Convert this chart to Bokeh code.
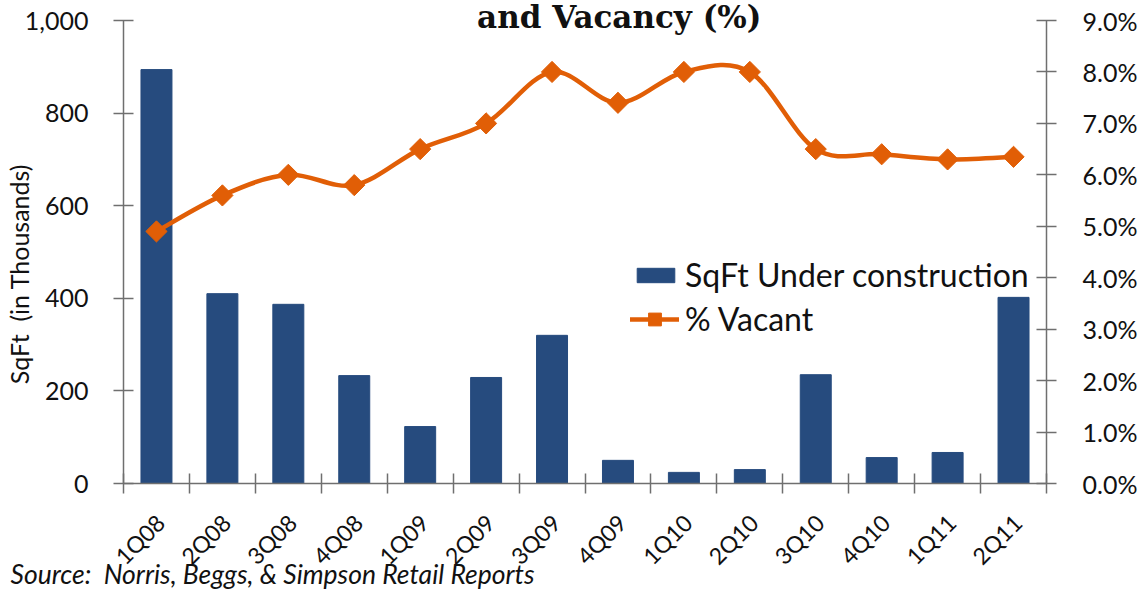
import math
from bokeh.plotting import figure
from bokeh.models import (Range1d, LinearAxis, FixedTicker, NumeralTickFormatter,
                          PrintfTickFormatter, Label, Legend, LegendItem, Title)
from bokeh.embed import file_html
from bokeh.resources import INLINE

# ---- data ----
quarters = ["1Q08", "2Q08", "3Q08", "4Q08", "1Q09", "2Q09", "3Q09", "4Q09",
            "1Q10", "2Q10", "3Q10", "4Q10", "1Q11", "2Q11"]
sqft_under_construction = [894, 410, 387, 233, 123, 229, 320, 50, 24, 30, 235, 56, 67, 402]
pct_vacant = [4.9, 5.6, 6.0, 5.8, 6.5, 7.0, 8.0, 7.4, 8.0, 8.0, 6.5, 6.4, 6.3, 6.35]
left_ticks = [0, 200, 400, 600, 800, 1000]
right_ticks = [0, 1, 2, 3, 4, 5, 6, 7, 8, 9]

BAR = "#264B7E"
ORANGE = "#E15E06"
AX = "#6f6f6f"
TXT = "#111111"
FONT = "Lato"
NB = "\u00a0"

n = len(quarters)
xc = [i + 0.5 for i in range(n)]
label_pos = [i + 0.56 for i in range(n)]

# y range extended above 1000 so the title sits inside the frame; axes bounded to 0..1000
YTOP = 1043.2
p = figure(width=1143, height=594, output_backend="svg", toolbar_location=None,
           x_range=Range1d(0, n), y_range=Range1d(0, YTOP),
           min_border_left=123, min_border_right=97, min_border_top=0, min_border_bottom=111,
           outline_line_color=None, background_fill_color="white", border_fill_color="white")
p.xgrid.visible = False
p.ygrid.visible = False
p.extra_y_ranges = {"pct": Range1d(0, 9 * YTOP / 1000)}

bars = p.vbar(x=xc, top=sqft_under_construction, width=0.47, fill_color=BAR, line_color=BAR)

# smooth (Catmull-Rom style) curve through the vacancy points
bx0, by0, bx1, by1, cx0, cy0, cx1, cy1 = [], [], [], [], [], [], [], []
for i in range(n - 1):
    im, ip, ip2 = max(i - 1, 0), i + 1, min(i + 2, n - 1)
    bx0.append(xc[i]); by0.append(pct_vacant[i])
    bx1.append(xc[ip]); by1.append(pct_vacant[ip])
    cx0.append(xc[i] + (xc[ip] - xc[im]) / 6.0)
    cy0.append(pct_vacant[i] + (pct_vacant[ip] - pct_vacant[im]) / 6.0)
    cx1.append(xc[ip] - (xc[ip2] - xc[i]) / 6.0)
    cy1.append(pct_vacant[ip] - (pct_vacant[ip2] - pct_vacant[i]) / 6.0)

curve = p.bezier(x0=bx0, y0=by0, x1=bx1, y1=by1, cx0=cx0, cy0=cy0, cx1=cx1, cy1=cy1,
                 line_color=ORANGE, line_width=4.5, line_cap="round", y_range_name="pct")
marks = p.scatter(x=xc, y=pct_vacant, marker="square", angle=math.pi / 4, size=15,
                  fill_color=ORANGE, line_color=ORANGE, y_range_name="pct")

# ---- axes ----
xa = p.xaxis[0]
xa.ticker = FixedTicker(ticks=label_pos, minor_ticks=list(range(n + 1)))
xa.major_label_overrides = {x: q for x, q in zip(label_pos, quarters)}
xa.major_tick_line_color = None
xa.major_tick_in = 0
xa.major_tick_out = 10
xa.minor_tick_in = 10
xa.minor_tick_out = 10
xa.minor_tick_line_color = AX
xa.minor_tick_line_width = 1.5
xa.axis_line_color = AX
xa.axis_line_width = 1.5
xa.major_label_orientation = math.pi / 4
xa.major_label_standoff = 25
xa.major_label_text_font = FONT
xa.major_label_text_font_size = "23px"
xa.major_label_text_color = TXT

ya = p.yaxis[0]
ya.bounds = (0, 1000)
ya.ticker = FixedTicker(ticks=left_ticks)
ya.formatter = NumeralTickFormatter(format="0,0")
ya.major_tick_in = 10
ya.major_tick_out = 10
ya.minor_tick_line_color = None
ya.major_tick_line_color = AX
ya.major_tick_line_width = 1.5
ya.axis_line_color = AX
ya.axis_line_width = 1.5
ya.major_label_standoff = 25
ya.major_label_text_font = FONT
ya.major_label_text_font_size = "25px"
ya.major_label_text_color = TXT
ya.axis_label = "SqFt" + NB + NB + "(in Thousands)" + NB * 10
ya.axis_label_text_font = FONT
ya.axis_label_text_font_style = "normal"
ya.axis_label_text_font_size = "25px"
ya.axis_label_text_color = TXT
try:
    ya.axis_label_standoff = -12
except Exception:
    ya.axis_label_standoff = 0

ra = LinearAxis(y_range_name="pct", ticker=FixedTicker(ticks=right_ticks),
                formatter=PrintfTickFormatter(format="%.1f%%"), bounds=(0, 9))
ra.major_tick_in = 10
ra.major_tick_out = 10
ra.minor_tick_line_color = None
ra.major_tick_line_color = AX
ra.major_tick_line_width = 1.5
ra.axis_line_color = AX
ra.axis_line_width = 1.5
ra.major_label_standoff = 26
ra.major_label_text_font = FONT
ra.major_label_text_font_size = "25px"
ra.major_label_text_color = TXT
p.add_layout(ra, "right")

# ---- legends ----
leg1 = Legend(items=[LegendItem(label="SqFt Under construction", renderers=[bars])],
              location=(509, 189), glyph_width=47, glyph_height=18,
              label_text_font=FONT, label_text_font_size="32px", label_text_color=TXT,
              background_fill_alpha=0, border_line_color=None, padding=0, margin=0,
              label_standoff=6, spacing=0)
leg2 = Legend(items=[LegendItem(label="% Vacant", renderers=[curve, marks], index=0)],
              location=(507, 145), glyph_width=49, glyph_height=32,
              label_text_font=FONT, label_text_font_size="32px", label_text_color=TXT,
              background_fill_alpha=0, border_line_color=None, padding=0, margin=0,
              label_standoff=6, spacing=0)
p.add_layout(leg1)
p.add_layout(leg2)

# ---- texts ----
p.add_layout(Label(x=7.52, y=1008, text="and Vacancy (%)", text_align="center",
                   text_baseline="alphabetic", text_font="DejaVu Serif",
                   text_font_style="bold", text_font_size="31px", text_color="#111111"))
src = Title(text="Source:" + NB + NB + "Norris, Beggs, & Simpson Retail Reports", align="left",
            offset=-113, vertical_align="top", text_font=FONT, text_font_style="italic",
            text_font_size="26.5px", text_color=TXT)
try:
    src.standoff = -50
except Exception:
    src.standoff = 0
p.add_layout(src, "below")

open("out.html", "w").write(file_html(p, INLINE))
